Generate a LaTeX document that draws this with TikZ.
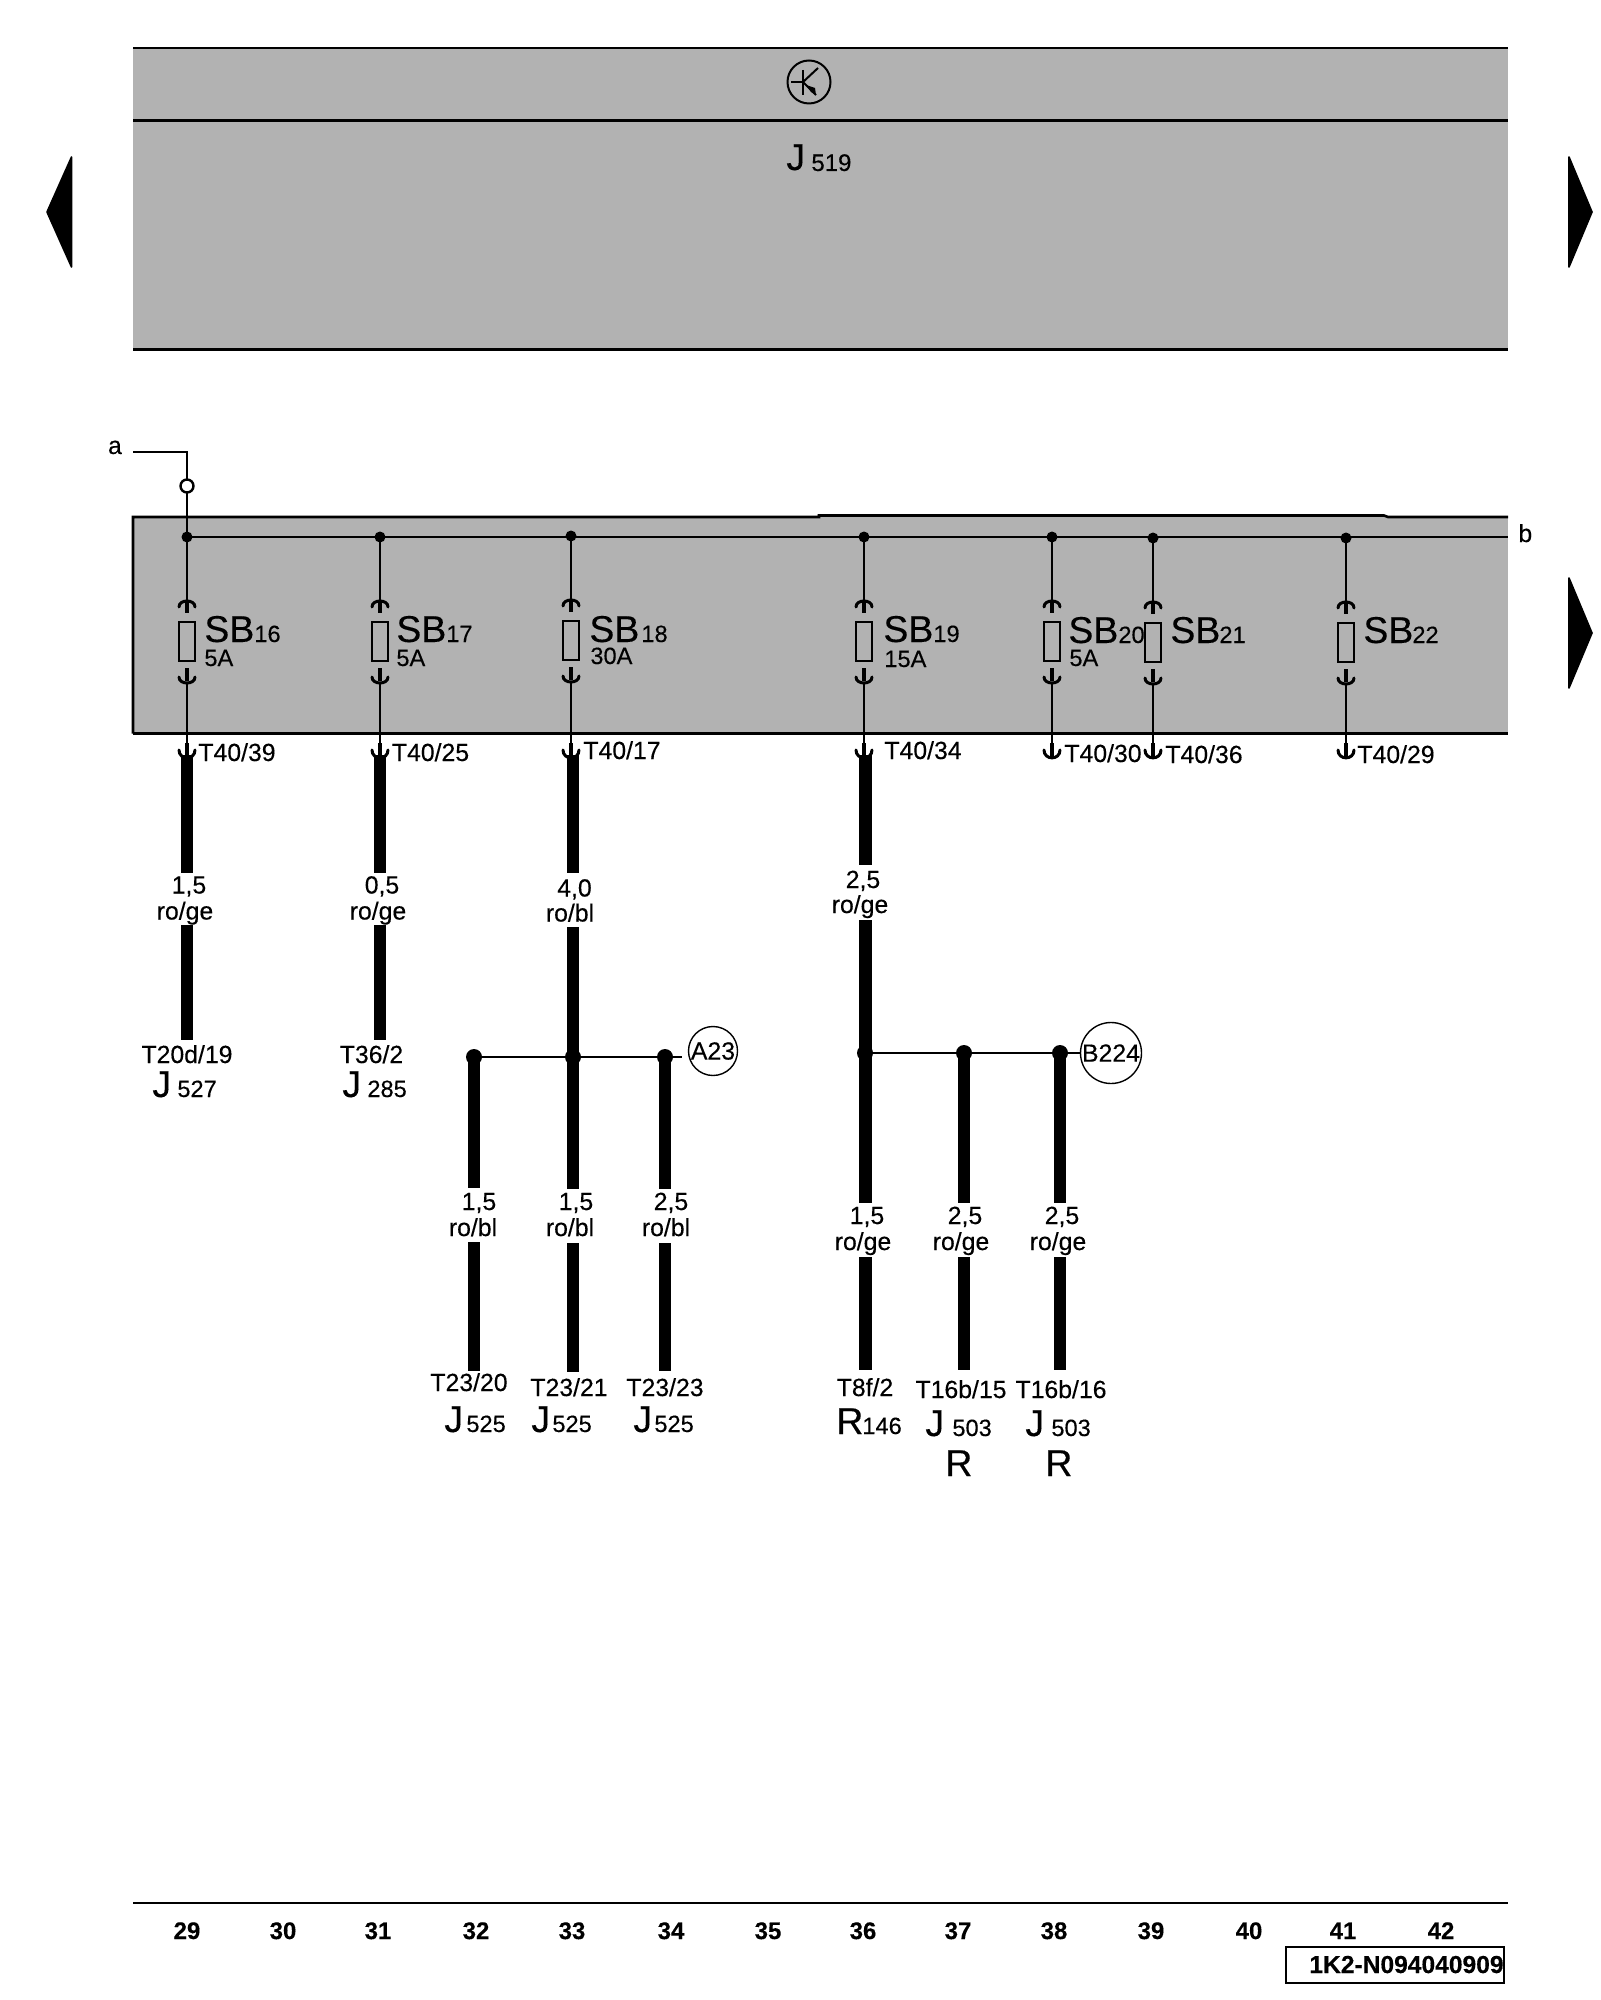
\documentclass[tikz,border=0pt]{standalone}
\usepackage{fontspec}
\setmainfont{Liberation Sans}[FakeBold=0.25]
\definecolor{boxgrey}{HTML}{B2B2B2}
\newcommand{\sz}[1]{\fontsize{#1}{#1}\selectfont}
\tikzset{
  x=0.5pt,y=-0.5pt,
  thinw/.style={line width=1.3pt,line cap=butt},
  fatw/.style={line width=6pt,line cap=butt},
  fatb/.style={line width=6.5pt,line cap=butt},
  stubw/.style={line width=2pt},
  arcw/.style={line width=1.5pt,line cap=round},
  bord/.style={line width=1.3pt},
  busdot/.style={circle,fill=black,inner sep=0,minimum size=5.5pt},
  jdot/.style={circle,fill=black,inner sep=0,minimum size=8pt},
  fusebox/.style={draw,line width=0.9pt,inner sep=0,minimum width=8pt,minimum height=19.5pt},
  small/.style={inner sep=0,anchor=base,font=\sz{12.4}},
  smallw/.style={inner sep=0,anchor=base west,font=\sz{12.4}},
  bigw/.style={inner sep=0,anchor=base west,font=\sz{18.7}},
  subw/.style={inner sep=0,anchor=base west,font=\sz{11.8}},
  pageno/.style={inner sep=0,anchor=base,font=\bfseries\sz{12}},
  conn/.style={draw,circle,line width=0.7pt,inner sep=0,font=\sz{12.4}},
  navarrow/.style={fill=black,draw=black,line width=0.8pt,line join=round},
}
% name, x, bus y, fuse top
\newcommand{\fuseunit}[4]{%
  \node[busdot] (d#1) at (#2,#3) {};
  \node[fusebox] (f#1) at (#2,#4+19.5) {};
  \coordinate (ft#1) at (#2,#4-21);
  \coordinate (fs#1) at (#2,#4-9);
  \coordinate (bt#1) at (#2,#4+46);
  \coordinate (bs#1) at (#2,#4+59);
  \coordinate (bb#1) at (#2,#4+61);
  \coordinate (pa#1) at (#2,758);
  \coordinate (ps#1) at (#2,743);
  \coordinate (pe#1) at (#2,756);
  \draw[thinw] (d#1.center) -- (ft#1);
  \draw[stubw] (ft#1) -- (fs#1);
  \draw[arcw] (#2-8,#4-15) .. controls (#2-8,#4-23) and (#2+8,#4-23) .. (#2+8,#4-15);
  \draw[stubw] (bt#1) -- (bs#1);
  \draw[arcw] (#2-8,#4+55) .. controls (#2-8,#4+63) and (#2+8,#4+63) .. (#2+8,#4+55);
  \draw[thinw] (bb#1) -- (pa#1);
  \draw[stubw] (ps#1) -- (pe#1);
  \draw[arcw] (#2-8,750) .. controls (#2-8,760.5) and (#2+8,760.5) .. (#2+8,750);
}
\begin{document}
\begin{tikzpicture}
\useasboundingbox (0,0) rectangle (1600,2000);
\fill[white] (0,0) rectangle (1600,2000);
% top box
\fill[boxgrey] (133,48) rectangle (1508,349);
\draw[bord] (133,48) -- (1508,48);
\draw[bord] (133,120.5) -- (1508,120.5);
\draw[bord] (133,349.5) -- (1508,349.5);
\node[draw,circle,line width=1pt,inner sep=0,minimum size=21.5pt] (ecu) at (809,82) {};
\draw[line width=1pt] (791,82) -- (802,82);
\draw[line width=1pt] (803,70) -- (803,95);
\draw[line width=1pt] (803,82) -- (818,68);
\draw[line width=1pt] (803,82) -- (816,95);
\fill (806,85) -- (815,88) -- (816,95) -- (811,92) -- cycle;
\node[bigw] (j519a) at (786,170) {J};
\node[subw,font=\sz{12}] (j519b) at (811,171) {519};
% nav arrows
\fill[navarrow] (47,212) -- (71.5,157) -- (71.5,267) -- cycle;
\fill[navarrow] (1592,212) -- (1569,157) -- (1569,267) -- cycle;
\fill[navarrow] (1592,633) -- (1569,578) -- (1569,688) -- cycle;
% lower box
\fill[boxgrey] (133,517) rectangle (1508,733.5);
\draw[bord] (133,733.5) -- (133,517) -- (819,517) -- (819,515.5) -- (1384,515.5) -- (1388,517) -- (1508,517);
\draw[bord] (133,733.5) -- (1508,733.5);
% feed a
\coordinate (afree) at (133,452);
\coordinate (acorner) at (187,452);
\node[inner sep=0,anchor=base,font=\sz{12.4}] (alabel) at (115,454) {a};
\node[inner sep=0,anchor=base west,font=\sz{12.4}] (blabel) at (1518,542) {b};
\coordinate (busend) at (1508,537);
% fuses
\fuseunit{16}{187}{537}{622}
\fuseunit{17}{380}{537}{622}
\fuseunit{18}{571}{536}{621}
\fuseunit{19}{864}{537}{622}
\fuseunit{20}{1052}{537}{622}
\fuseunit{21}{1153}{538}{623}
\fuseunit{22}{1346}{538}{623}
\draw[thinw] (afree) -- (acorner) -- (d16.center);
\draw[thinw] (d16.center) -- (busend);
\node[draw,circle,fill=white,line width=1.2pt,inner sep=0,minimum size=6.5pt] (aring) at (187,486) {};
% SB labels
\foreach \n/\xa/\xb/\yy in {16/204/254/642,17/396/446/642,18/589/641/642,19/883/933/642,20/1068/1118/643,21/1170/1219/643,22/1363/1412/643}{
  \node[bigw] (sb\n) at (\xa,\yy) {SB};
  \node[subw] (sn\n) at (\xb,\yy) {\n};
}
\node[subw] (a16) at (204,666) {5A};
\node[subw] (a17) at (396,666) {5A};
\node[subw] (a18) at (590,664) {30A};
\node[subw] (a19) at (884,667) {15A};
\node[subw] (a20) at (1069,666) {5A};
% terminals
\node[smallw] (t16) at (198,761) {T40/39};
\node[smallw] (t17) at (391.5,761) {T40/25};
\node[smallw] (t18) at (583,759) {T40/17};
\node[smallw] (t19) at (884,759) {T40/34};
\node[smallw] (t20) at (1064,762) {T40/30};
\node[smallw] (t21) at (1165,763) {T40/36};
\node[smallw] (t22) at (1357,763) {T40/29};
% heavy wires: name/x/top/bottom
\foreach \n/\xx/\ya/\yb in {a/187/755/873,b/187/925/1040,c/380/755/873,d/380/925/1040,e/573/755/873,f/573/927/1189,g/573/1243/1372,h/474/1057/1188,i/474/1242/1371,j/665/1057/1189,k/665/1243/1371,n/964/1052/1203,o/964/1257/1370,p/1060/1052/1203,q/1060/1257/1370}{
  \coordinate (w\n1) at (\xx,\ya);
  \coordinate (w\n2) at (\xx,\yb);
  \draw[fatw] (w\n1) -- (w\n2);
}
\foreach \n/\ya/\yb in {l/755/865,m/920/1203,r/1257/1370}{
  \coordinate (w\n1) at (865,\ya);
  \coordinate (w\n2) at (865,\yb);
  \draw[fatb] (w\n1) -- (w\n2);
}
% junctions
\node[jdot] (ja1) at (474,1057) {};
\node[jdot] (ja2) at (573,1057) {};
\node[jdot] (ja3) at (665,1057) {};
\node[jdot] (jb1) at (865,1053) {};
\node[jdot] (jb2) at (964,1053) {};
\node[jdot] (jb3) at (1060,1053) {};
\coordinate (jaend) at (682,1057);
\coordinate (jbend) at (1080,1053);
\draw[thinw] (ja1.center) -- (jaend);
\draw[thinw] (jb1.center) -- (jbend);
\node[conn,minimum size=24.5pt] (A23) at (713,1051) {A23};
\node[conn,minimum size=30.5pt] (B224) at (1111,1053) {B224};
% wire labels
\node[small] (g1) at (189,893.5) {1,5};
\node[small] (c1) at (185,919.5) {ro/ge};
\node[small] (g2) at (382,893.5) {0,5};
\node[small] (c2) at (378,919.5) {ro/ge};
\node[small] (g3) at (574.5,896.5) {4,0};
\node[small] (c3) at (570,921.5) {ro/bl};
\node[small] (g4) at (863,888) {2,5};
\node[small] (c4) at (860,913) {ro/ge};
\node[small] (g5) at (479,1210) {1,5};
\node[small] (c5) at (473,1236) {ro/bl};
\node[small] (g6) at (576,1210) {1,5};
\node[small] (c6) at (570,1236) {ro/bl};
\node[small] (g7) at (671,1210) {2,5};
\node[small] (c7) at (666,1236) {ro/bl};
\node[small] (g8) at (867,1224) {1,5};
\node[small] (c8) at (863,1250) {ro/ge};
\node[small] (g9) at (965,1224) {2,5};
\node[small] (c9) at (961,1250) {ro/ge};
\node[small] (g10) at (1062,1224) {2,5};
\node[small] (c10) at (1058,1250) {ro/ge};
% end labels
\node[small] (e1) at (187,1063) {T20d/19};
\node[small] (e2) at (371.5,1063) {T36/2};
\node[small] (e3) at (469,1391) {T23/20};
\node[small] (e4) at (569,1396) {T23/21};
\node[small] (e5) at (665,1396) {T23/23};
\node[small] (e6) at (865,1396) {T8f/2};
\node[small] (e7) at (961,1398) {T16b/15};
\node[small] (e8) at (1061,1398) {T16b/16};
\foreach \n/\xa/\xb/\yy/\aa/\bb in {1/152/177/1097/J/527,2/342/367/1097/J/285,3/444/466/1432/J/525,4/531/552/1432/J/525,5/633/654/1432/J/525,6/836/862/1434/R/146,7/925/952/1436/J/503,8/1025/1051/1436/J/503}{
  \node[bigw] (cm\n) at (\xa,\yy) {\aa};
  \node[subw] (cs\n) at (\xb,\yy) {\bb};
}
\node[bigw] (rr1) at (945,1476) {R};
\node[bigw] (rr2) at (1045,1476) {R};
% footer
\coordinate (fl) at (133,1903);
\coordinate (fr) at (1508,1903);
\draw[bord] (fl) -- (fr);
\foreach \t/\xx in {29/187,30/283,31/378,32/476,33/572,34/671,35/768,36/863,37/958,38/1054,39/1151,40/1249,41/1343,42/1441}{
  \node[pageno] (pg\t) at (\xx,1939) {\t};
}
\node[draw,line width=0.9pt,inner sep=0,minimum width=109pt,minimum height=18pt] (idbox) at (1395,1965) {};
\node[inner sep=0,anchor=base west,font=\bfseries\sz{12.3}] (idtext) at (1309,1973) {1K2-N094040909};
\end{tikzpicture}
\end{document}
